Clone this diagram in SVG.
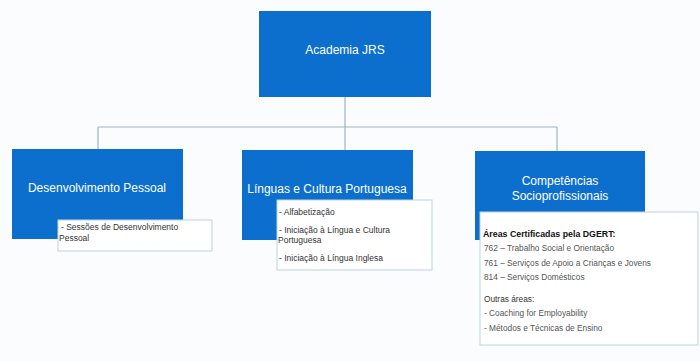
<svg xmlns="http://www.w3.org/2000/svg" width="700" height="361" viewBox="0 0 700 361">
<style>
.bg{fill:#fafcfd}
.node{fill:#0c6fce}
.nt{font-family:"Liberation Sans",Arial,sans-serif;font-size:12px;fill:#ffffff;text-anchor:middle}
.sub{fill:#ffffff;stroke:#bcd3dc;stroke-width:1}
.st{font-family:"Liberation Sans",Arial,sans-serif;font-size:8.5px;fill:#333333}
.sg{font-family:"Liberation Sans",Arial,sans-serif;font-size:8.3px;fill:#555555}
.sb{font-family:"Liberation Sans",Arial,sans-serif;font-size:8.8px;font-weight:bold;fill:#111111}
.so{font-family:"Liberation Sans",Arial,sans-serif;font-size:8.3px;fill:#333333}
.conn{fill:none;stroke:#9fb4c8;stroke-width:1.2}
</style>
<rect class="bg" x="0" y="0" width="700" height="361"/>
<g id="connectors">
<path class="conn" d="M345,97 V127 M98,127 H557 M98,127 V149 M345,127 V150 M557,127 V151"/>
</g>
<g id="root">
<rect class="node" x="259" y="11" width="172" height="86"/>
<text class="nt" x="345" y="54">Academia JRS</text>
</g>
<g id="desenvolvimento">
<rect class="node" x="12" y="149" width="171" height="90"/>
<text class="nt" x="97" y="192">Desenvolvimento Pessoal</text>
<rect class="sub" x="58" y="220" width="154" height="31"/>
<text class="st" x="61" y="230">- Sessões de Desenvolvimento</text>
<text class="st" x="59" y="241">Pessoal</text>
</g>
<g id="linguas">
<rect class="node" x="242" y="150" width="171" height="90"/>
<text class="nt" x="327" y="193">Línguas e Cultura Portuguesa</text>
<rect class="sub" x="277" y="200" width="155" height="70"/>
<text class="st" x="279" y="215">- Alfabetização</text>
<text class="st" x="279" y="233">- Iniciação à Língua e Cultura</text>
<text class="st" x="278" y="243">Portuguesa</text>
<text class="st" x="279" y="261">- Iniciação à Língua Inglesa</text>
</g>
<g id="competencias">
<rect class="node" x="475" y="151" width="170" height="89"/>
<text class="nt" x="560" y="185">Competências</text>
<text class="nt" x="560" y="200">Socioprofissionais</text>
<rect class="sub" x="480" y="212" width="218" height="133"/>
<text class="sb" x="483" y="237">Áreas Certificadas pela DGERT:</text>
<text class="sg" x="484" y="251">762 – Trabalho Social e Orientação</text>
<text class="sg" x="484" y="266">761 – Serviços de Apoio a Crianças e Jovens</text>
<text class="sg" x="484" y="280">814 – Serviços Domésticos</text>
<text class="so" x="484" y="302">Outras áreas:</text>
<text class="sg" x="484" y="316">- Coaching for Employability</text>
<text class="sg" x="484" y="331">- Métodos e Técnicas de Ensino</text>
</g>
</svg>
